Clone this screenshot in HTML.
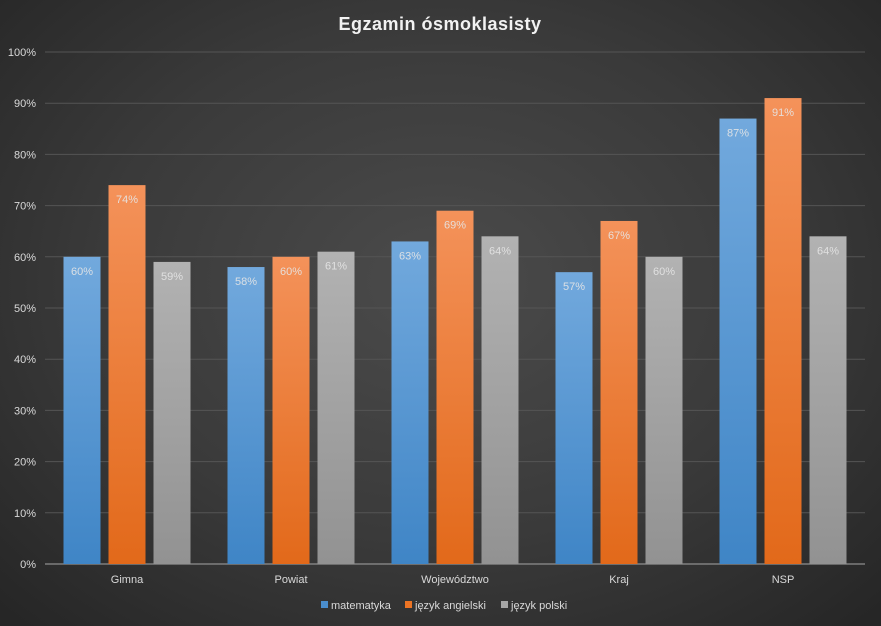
<!DOCTYPE html>
<html><head><meta charset="utf-8"><style>
html,body{margin:0;padding:0;width:881px;height:626px;overflow:hidden}
body{background:radial-gradient(ellipse 70% 75% at 50% 45%,#4b4b4b 0%,#3a3a3a 55%,#262626 100%);font-family:"Liberation Sans","DejaVu Sans",sans-serif}
</style></head><body>
<svg id="chart" width="881" height="626" xmlns="http://www.w3.org/2000/svg">
<defs>
<linearGradient id="gb" x1="0" y1="0" x2="0" y2="1"><stop offset="0" stop-color="#72a9dd"/><stop offset="1" stop-color="#3f85c6"/></linearGradient>
<linearGradient id="go" x1="0" y1="0" x2="0" y2="1"><stop offset="0" stop-color="#f4925a"/><stop offset="1" stop-color="#e2691a"/></linearGradient>
<linearGradient id="gg" x1="0" y1="0" x2="0" y2="1"><stop offset="0" stop-color="#b2b2b2"/><stop offset="1" stop-color="#929292"/></linearGradient>
</defs>
<text x="440" y="30" text-anchor="middle" fill="#f2f2f2" font-size="18" font-weight="bold" letter-spacing="0.5">Egzamin  ósmoklasisty</text>
<g id="grid"></g><g id="bars"></g><g id="xlabels"></g>
<g>
<rect x="321" y="601" width="7" height="7" fill="#4a8dcc"/><text x="331" y="609" fill="#d9d9d9" font-size="11">matematyka</text>
<rect x="405" y="601" width="7" height="7" fill="#ec7424"/><text x="415" y="609" fill="#d9d9d9" font-size="11">język angielski</text>
<rect x="501" y="601" width="7" height="7" fill="#a5a5a5"/><text x="511" y="609" fill="#d9d9d9" font-size="11">język polski</text>
</g>
</svg>
<script>
const categories=["Gimna","Powiat","Województwo","Kraj","NSP"];
const matematyka=[60,58,63,57,87];
const angielski=[74,60,69,67,91];
const polski=[59,61,64,60,64];
const ticks=[0,10,20,30,40,50,60,70,80,90,100];
const series=[{name:"matematyka",v:matematyka,f:"url(#gb)"},{name:"angielski",v:angielski,f:"url(#go)"},{name:"polski",v:polski,f:"url(#gg)"}];
const NS="http://www.w3.org/2000/svg";
const X0=45,X1=865,Y0=564,Y100=52;
const y=v=>Y0-(v/100)*(Y0-Y100);
const gw=(X1-X0)/categories.length;
const bw=37,gap=8;
function mk(t,a,p){const e=document.createElementNS(NS,t);for(const k in a)e.setAttribute(k,a[k]);p.appendChild(e);return e;}
const grid=document.getElementById('grid');
ticks.forEach(t=>{
 const l=mk('line',{x1:X0,x2:X1,y1:y(t),y2:y(t),stroke:t===0?'#a6a6a6':'#555','stroke-width':1},grid);
 
 
 const tx=mk('text',{x:36,y:y(t)+4,'text-anchor':'end',fill:'#d9d9d9','font-size':11},grid);
 tx.textContent=t+'%';
 
 
});
const bars=document.getElementById('bars'),xl=document.getElementById('xlabels');
categories.forEach((c,i)=>{
 const cx=X0+gw*(i+0.5);
 const start=cx-(3*bw+2*gap)/2;
 series.forEach((s,j)=>{
  const v=s.v[i],bx=start+j*(bw+gap);
  const r=mk('rect',{x:bx,y:y(v),width:bw,height:Y0-y(v),fill:s.f},bars);
  
  
  const t=mk('text',{x:bx+bw/2,y:y(v)+18,'text-anchor':'middle',fill:'#e6e6e6','font-size':11,'fill-opacity':0.9},bars);
  t.textContent=v+'%';
  
  
 });
 const lt=mk('text',{x:cx,y:583,'text-anchor':'middle',fill:'#d9d9d9','font-size':11},xl);
 lt.textContent=c;
 
 
});
</script>
</body></html>
